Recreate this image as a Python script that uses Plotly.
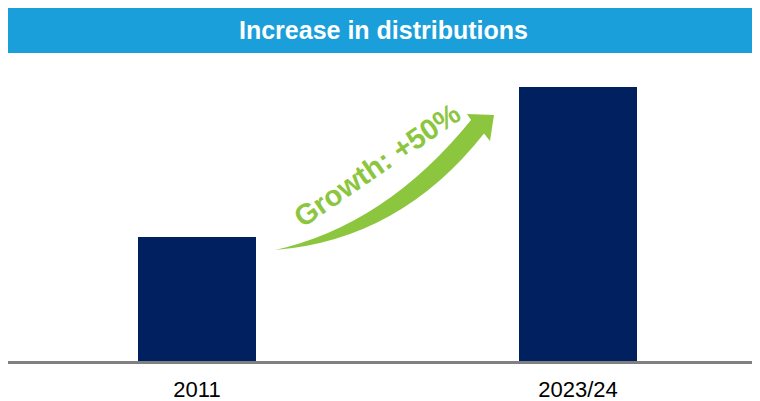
import plotly.graph_objects as go

# ---- data ----
categories = ["2011", "2023/24"]
values = [100, 150]          # relative distributions (index, 2011 = 100)
growth_label = "Growth: +50%"
title_text = "Increase in distributions"

NAVY = "#002060"
BANNER = "#1A9FDA"
GREEN = "#8CC63F"
GREY = "#808080"

Y_MIN = 58.67
Y_MAX = 156.33

fig = go.Figure()
fig.add_trace(go.Bar(
    x=categories, y=values, marker=dict(color=NAVY, line=dict(width=0)),
    width=0.312, hoverinfo="skip", showlegend=False,
))

# curved growth arrow (category-index / value coordinates)
arrow_path = (
    "M 0.2047,95.67 "
    "Q 0.5328,99.0 0.7533,134.5 "
    "L 0.769,132.0 "
    "L 0.7795,140.67 "
    "L 0.7087,141.0 "
    "L 0.7192,139.0 "
    "Q 0.4961,104.0 0.2047,95.67 Z"
)
fig.add_shape(type="path", path=arrow_path, xref="x", yref="y",
              fillcolor=GREEN, line=dict(width=0), layer="above")

fig.add_annotation(x=0.473, y=123.97, xref="x", yref="y", text=growth_label,
                   showarrow=False, textangle=-34.5,
                   font=dict(family="Liberation Sans, Arial", size=29, color=GREEN, weight="bold"),
                   xanchor="center", yanchor="middle")

# title banner
fig.add_shape(type="rect", xref="paper", yref="paper", x0=-0.003, x1=1.0,
              y0=1.0512, y1=1.2048, fillcolor=BANNER, line=dict(width=0), layer="above")
fig.add_annotation(x=0.4987, y=1.129, xref="paper", yref="paper", text="<b>" + title_text + "</b>",
                   showarrow=False, xanchor="center", yanchor="middle",
                   font=dict(family="Liberation Sans, Arial", size=25, color="white"))

fig.update_layout(
    width=752, height=393,
    margin=dict(l=0, r=0, t=60, b=40),
    paper_bgcolor="white", plot_bgcolor="white",
    xaxis=dict(type="category", range=[-0.4961, 1.4777], showline=True, linecolor=GREY,
               linewidth=2.5, showgrid=False, zeroline=False, ticks="", automargin=False,
               tickfont=dict(family="Liberation Sans, Arial", size=22, color="black"),
               ticklabelstandoff=7),
    yaxis=dict(range=[Y_MIN, Y_MAX], visible=False, showgrid=False, zeroline=False,
               automargin=False),
    bargap=0,
)

fig.write_html("out.html")
